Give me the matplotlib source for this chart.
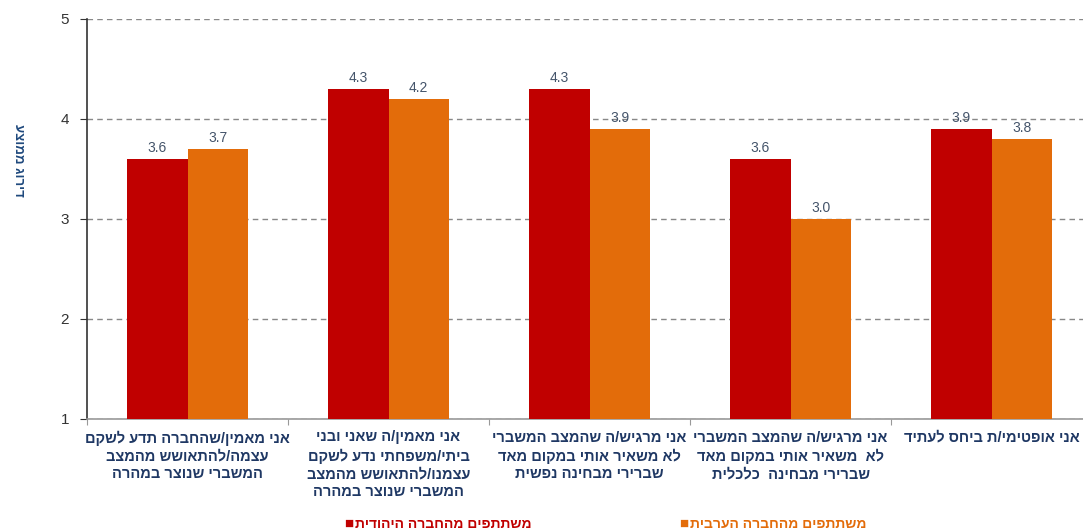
import numpy as np
import matplotlib
matplotlib.use("Agg")
import matplotlib.pyplot as plt

plt.rcParams['font.family'] = ['Liberation Sans', 'DejaVu Sans']

# data ------------------------------------------------------------------------
categories = [
    ["אני מאמין/שהחברה תדע לשקם", "עצמה/להתאושש מהמצב", "המשברי שנוצר במהרה"],
    ["אני מאמין/ה שאני ובני", "ביתי/משפחתי נדע לשקם", "עצמנו/להתאושש מהמצב", "המשברי שנוצר במהרה"],
    ["אני מרגיש/ה שהמצב המשברי", "לא משאיר אותי במקום מאד", "שברירי מבחינה נפשית"],
    ["אני מרגיש/ה שהמצב המשברי", "לא  משאיר אותי במקום מאד", "שברירי מבחינה  כלכלית"],
    ["אני אופטימי/ת ביחס לעתיד"],
]
jewish = [3.6, 4.3, 4.3, 3.6, 3.9]
arab = [3.7, 4.2, 3.9, 3.0, 3.8]
series_names = ["משתתפים מהחברה היהודית", "משתתפים מהחברה הערבית"]
y_label = "דירוג ממוצע"
y_ticks = [1, 2, 3, 4, 5]

RED = "#C00000"
ORANGE = "#E36C0A"
NAVY = "#1F3864"
SLATE = "#44546A"


def rtl(s):
    # matplotlib has no bidi support, flip hebrew by hand
    return s[::-1]


fig = plt.figure(figsize=(10.83, 5.32), dpi=100)
ax = fig.add_axes([87 / 1083, 1 - 419 / 532, 1005 / 1083, 400 / 532])

x = np.arange(len(jewish))
w = 0.3
ax.bar(x - w / 2, np.array(jewish) - 1, w, bottom=1, color=RED, zorder=3)
ax.bar(x + w / 2, np.array(arab) - 1, w, bottom=1, color=ORANGE, zorder=3)

for xi, v in zip(x - w / 2, jewish):
    ax.text(xi, v + 0.04, f"{v:.1f}", ha="center", va="bottom", fontsize=10, color=SLATE, zorder=4)
for xi, v in zip(x + w / 2, arab):
    ax.text(xi, v + 0.04, f"{v:.1f}", ha="center", va="bottom", fontsize=10, color=SLATE, zorder=4)

ax.set_xlim(-0.5, 4.5)
ax.set_ylim(1, 5)
ax.set_yticks(y_ticks)
ax.set_yticklabels([str(t) for t in y_ticks], fontsize=11, color="#333333")
ax.yaxis.grid(True, linestyle=(0, (4, 3)), color="#888888", linewidth=1, zorder=0)
ax.set_axisbelow(True)

ax.spines['top'].set_visible(False)
ax.spines['right'].set_visible(False)
ax.spines['left'].set_color("#333333")
ax.spines['left'].set_linewidth(1.2)
ax.spines['bottom'].set_color("#999999")
ax.spines['bottom'].set_linewidth(1.2)
ax.tick_params(axis="y", length=5, color="#333333", pad=8)

ax.set_xticks(np.arange(-0.5, 5, 1.0))
ax.set_xticklabels([])
ax.tick_params(axis="x", length=4, color="#999999")

for i, lines in enumerate(categories):
    ax.text(i, 0.885, "\n".join(rtl(l) for l in lines), ha="center", va="top",
            fontsize=10.5, fontweight="bold", color=NAVY, linespacing=1.32)

fig.text(18 / 1083, 1 - 160 / 532, rtl(y_label), rotation=270, ha="center", va="center",
         fontsize=9.5, fontweight="bold", color="#1F497D")

# legend, drawn by hand
fig.text(355 / 1083, 1 - 524 / 532, rtl(series_names[0]), ha="left", va="center",
         fontsize=10, fontweight="bold", color=RED)
fig.text(353 / 1083, 1 - 524 / 532, "■", ha="right", va="center", fontsize=11, color=RED)
fig.text(690 / 1083, 1 - 524 / 532, rtl(series_names[1]), ha="left", va="center",
         fontsize=10, fontweight="bold", color=ORANGE)
fig.text(688 / 1083, 1 - 524 / 532, "■", ha="right", va="center", fontsize=11, color=ORANGE)

fig.savefig("out.png", dpi=100)
